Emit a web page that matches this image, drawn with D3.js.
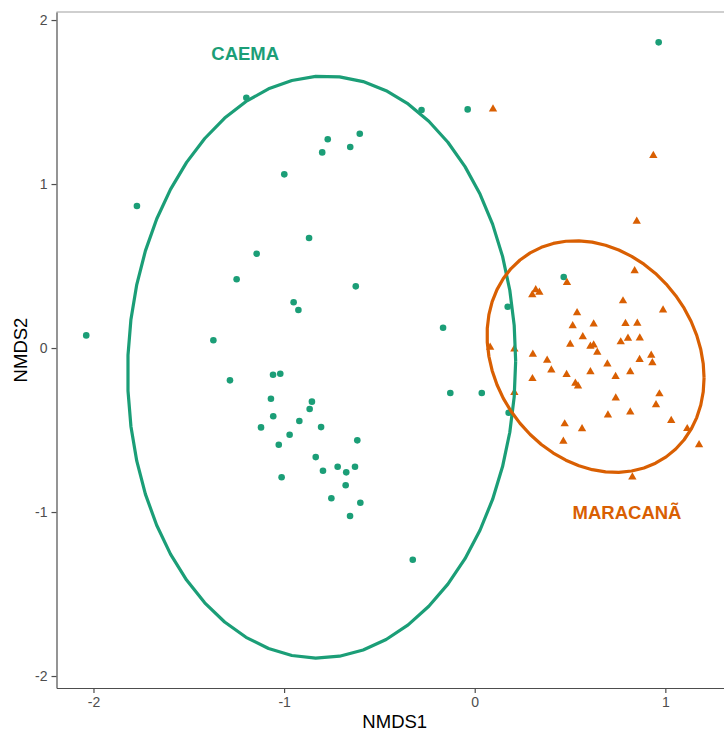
<!DOCTYPE html>
<html>
<head>
<meta charset="utf-8">
<script src="https://cdn.jsdelivr.net/npm/d3@7"></script>
<style>
  html, body { margin: 0; padding: 0; background: #fff; }
  #chart { width: 724px; height: 731px; overflow: hidden; }
  text { font-family: "Liberation Sans", Arial, sans-serif; }
</style>
</head>
<body>
<div id="chart"></div>
<script>
// ====== data ======
const groups = ["CAEMA", "MARACANÃ"];
const groupColors = ["#1B9E77", "#D95F02"];

// NMDS scores, CAEMA (circles)
const caemaX = [0.965, -1.198, -0.279, -0.037, -0.771, -0.800, -0.653, -0.603, -0.999, -1.772,
  -0.869, -1.144, -1.249, -0.624, -0.950, -0.925, -1.371, -2.038, -1.284, -1.058,
  -1.020, -1.069, -0.854, -0.866, -1.057, -0.920, -1.121, -0.806, -0.971, -1.028,
  -0.616, -0.834, -0.796, -0.719, -0.674, -0.628, -1.013, -0.677, -0.752, -0.600,
  -0.654, -0.325, 0.467, 0.173, -0.166, -0.128, 0.037, 0.178];
const caemaY = [1.864, 1.526, 1.451, 1.455, 1.273, 1.193, 1.226, 1.307, 1.059, 0.866,
  0.671, 0.575, 0.419, 0.376, 0.279, 0.232, 0.047, 0.077, -0.197, -0.163,
  -0.157, -0.309, -0.327, -0.372, -0.416, -0.445, -0.484, -0.482, -0.529, -0.590,
  -0.563, -0.665, -0.748, -0.724, -0.758, -0.724, -0.788, -0.837, -0.916, -0.943,
  -1.024, -1.291, 0.433, 0.252, 0.124, -0.274, -0.274, -0.395];

// NMDS scores, MARACANÃ (triangles)
const maracanaX = [0.096, 0.937, 0.850, 0.839, 0.484, 0.320, 0.339, 0.302, 0.778, 0.988,
  0.537, 0.791, 0.853, 0.514, 0.624, 0.567, 0.804, 0.866, 0.766, 0.501,
  0.607, 0.624, 0.643, 0.081, 0.208, 0.305, 0.380, 0.402, 0.696, 0.865,
  0.926, 0.932, 0.482, 0.607, 0.816, 0.739, 0.303, 0.528, 0.542, 0.208,
  0.969, 0.740, 0.951, 0.699, 0.816, 1.031, 0.472, 0.563, 1.115, 0.465,
  1.177, 0.827];
const maracanaY = [1.457, 1.173, 0.773, 0.471, 0.399, 0.355, 0.340, 0.325, 0.287, 0.232,
  0.215, 0.149, 0.151, 0.136, 0.146, 0.068, 0.059, 0.061, 0.037, 0.023,
  0.010, 0.018, -0.026, 0.004, -0.007, -0.038, -0.075, -0.134, -0.098, -0.071,
  -0.044, -0.090, -0.162, -0.145, -0.145, -0.174, -0.187, -0.215, -0.232, -0.271,
  -0.280, -0.305, -0.346, -0.409, -0.390, -0.442, -0.463, -0.493, -0.492, -0.569,
  -0.590, -0.787];

// ellipses: centre and covariance (sxx, syy, sxy) per group
const ellipseCx  = [-0.803, 0.634];
const ellipseCy  = [-0.116, -0.052];
const ellipseSxx = [1.036, 0.324];
const ellipseSyy = [3.1485, 0.4986];
const ellipseSxy = [0.0372, -0.0741];

// group labels (data coords)
const labelX = [-1.204, 0.799];
const labelY = [1.756, -1.043];

const xTicks = [-2, -1, 0, 1];
const yTicks = [-2, -1, 0, 1, 2];
const xDomain = [-2.194, 1.355];
const yDomain = [-2.073, 2.049];

// ====== chart ======
const width = 724, height = 731;
const margin = { top: 12, right: -9, bottom: 43, left: 56.5 };

const svg = d3.select("#chart").append("svg")
  .attr("width", width)
  .attr("height", height);

const x = d3.scaleLinear().domain(xDomain).range([margin.left, width - margin.right]);
const y = d3.scaleLinear().domain(yDomain).range([height - margin.bottom, margin.top]);

// panel top line (light)
svg.append("line")
  .attr("x1", margin.left).attr("x2", width - margin.right)
  .attr("y1", margin.top).attr("y2", margin.top)
  .attr("stroke", "#a0a0a0").attr("stroke-width", 1.2);

// axes (plain hyphen-minus labels, like R)
const fmt = d => String(d);
const xAxis = svg.append("g")
  .attr("transform", `translate(0,${height - margin.bottom})`)
  .call(d3.axisBottom(x).tickValues(xTicks).tickFormat(fmt)
    .tickSize(5).tickPadding(4).tickSizeOuter(0));
const yAxis = svg.append("g")
  .attr("transform", `translate(${margin.left},0)`)
  .call(d3.axisLeft(y).tickValues(yTicks).tickFormat(fmt)
    .tickSize(5).tickPadding(4).tickSizeOuter(0));

[xAxis, yAxis].forEach(a => {
  a.select(".domain").attr("stroke", "#4d4d4d").attr("stroke-width", 1.2);
  a.selectAll(".tick line").attr("stroke", "#4d4d4d").attr("stroke-width", 1.2);
  a.selectAll(".tick text")
    .attr("fill", "#4d4d4d")
    .style("font-size", "14px")
    .style("font-family", '"Liberation Sans", Arial, sans-serif');
});

// axis titles
svg.append("text")
  .attr("x", (margin.left + width - margin.right) / 2)
  .attr("y", 728)
  .attr("text-anchor", "middle")
  .style("font-size", "18.5px")
  .text("NMDS1");
svg.append("text")
  .attr("transform", `translate(26.5,${(margin.top + height - margin.bottom) / 2}) rotate(-90)`)
  .attr("text-anchor", "middle")
  .style("font-size", "18.5px")
  .text("NMDS2");

// points
const caema = caemaX.map((v, i) => ({ x: v, y: caemaY[i] }));
const maracana = maracanaX.map((v, i) => ({ x: v, y: maracanaY[i] }));

svg.append("g").selectAll("circle")
  .data(caema)
  .join("circle")
  .attr("cx", d => x(d.x))
  .attr("cy", d => y(d.y))
  .attr("r", 3.3)
  .attr("fill", groupColors[0]);

const tri = d3.symbol().type(d3.symbolTriangle).size(30);
svg.append("g").selectAll("path")
  .data(maracana)
  .join("path")
  .attr("transform", d => `translate(${x(d.x)},${y(d.y)})`)
  .attr("d", tri)
  .attr("fill", groupColors[1]);

// ellipses (cholesky of covariance, 51 segments like stat_ellipse)
const seg = d3.range(52).map(i => i / 51 * 2 * Math.PI);
groups.forEach((g, k) => {
  const l11 = Math.sqrt(ellipseSxx[k]);
  const l21 = ellipseSxy[k] / l11;
  const l22 = Math.sqrt(ellipseSyy[k] - l21 * l21);
  const pts = seg.map(t => [
    ellipseCx[k] + l11 * Math.cos(t),
    ellipseCy[k] + l21 * Math.cos(t) + l22 * Math.sin(t)
  ]);
  svg.append("path")
    .attr("d", d3.line().x(p => x(p[0])).y(p => y(p[1]))(pts))
    .attr("fill", "none")
    .attr("stroke", groupColors[k])
    .attr("stroke-width", 3.2)
    .attr("stroke-linejoin", "round");
});

// group labels
svg.append("g").selectAll("text")
  .data(groups)
  .join("text")
  .attr("x", (d, i) => x(labelX[i]))
  .attr("y", (d, i) => y(labelY[i]))
  .attr("text-anchor", "middle")
  .attr("fill", (d, i) => groupColors[i])
  .style("font-size", "18.5px")
  .style("font-weight", "bold")
  .text(d => d);
</script>
</body>
</html>
